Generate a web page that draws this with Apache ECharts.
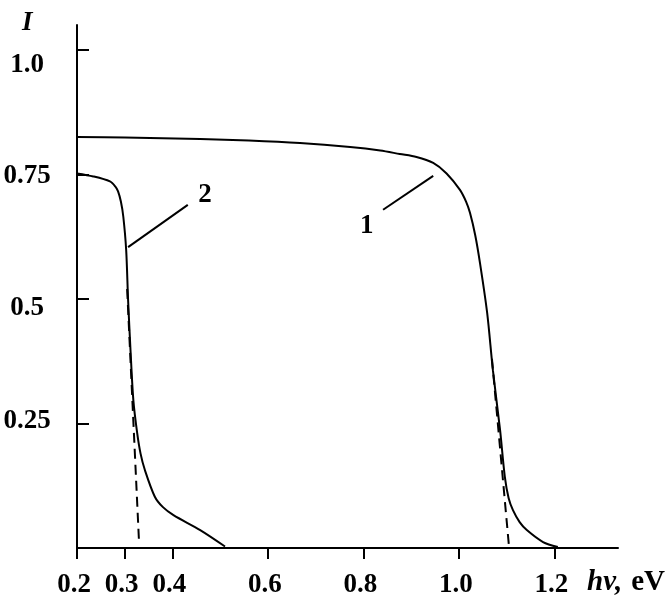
<!DOCTYPE html>
<html>
<head>
<meta charset="utf-8">
<script src="https://cdn.jsdelivr.net/npm/echarts@6/dist/echarts.min.js"></script>
<style>html,body{margin:0;padding:0;background:#fff;}#c{width:671px;height:609px;}</style>
</head>
<body>
<div id="c"></div>
<script>
// Data
const xTicks = [0.2, 0.3, 0.4, 0.6, 0.8, 1.0, 1.2];
const xTickLabels = ['0.2', '0.3', '0.4', '0.6', '0.8', '1.0', '1.2'];
const yTicks = [0.25, 0.5, 0.75, 1.0];
const yTickLabels = ['0.25', '0.5', '0.75', '1.0'];

const curve1 = [
  [0.200, 0.825], [0.300, 0.824], [0.458, 0.821], [0.560, 0.818], [0.667, 0.813],
  [0.772, 0.805], [0.835, 0.798], [0.876, 0.791], [0.911, 0.785], [0.946, 0.773],
  [0.974, 0.752], [1.002, 0.719], [1.015, 0.695], [1.023, 0.673], [1.034, 0.628],
  [1.044, 0.572], [1.059, 0.472], [1.071, 0.357], [1.086, 0.237], [1.096, 0.143],
  [1.104, 0.100], [1.113, 0.076], [1.127, 0.052], [1.142, 0.036], [1.176, 0.012],
  [1.207, 0.002]
];
const curve2 = [
  [0.200, 0.752], [0.234, 0.746], [0.269, 0.736], [0.280, 0.726], [0.286, 0.716],
  [0.292, 0.695], [0.297, 0.665], [0.303, 0.598], [0.307, 0.498], [0.312, 0.398],
  [0.318, 0.297], [0.326, 0.231], [0.333, 0.190], [0.342, 0.157], [0.363, 0.103],
  [0.380, 0.082], [0.402, 0.066], [0.458, 0.036], [0.510, 0.003]
];
const tangent1 = [[1.069, 0.380], [1.105, 0.000]];
const tangent2 = [[0.305, 0.520], [0.330, 0.010]];
const leader1 = [[0.841, 0.679], [0.946, 0.747]];
const leader2 = [[0.432, 0.689], [0.307, 0.604]];
const curveLabels = [
  { name: '1', value: [0.807, 0.647] },
  { name: '2', value: [0.468, 0.709] }
];

const serif = '"Liberation Serif", "DejaVu Serif", serif';
const chart = echarts.init(document.getElementById('c'), null, { renderer: 'canvas' });

const yRich = {
  p0: { padding: [0, 0, 4, 0] },
  p1: { padding: [18, 0, 0, 0] },
  p2: { padding: [4, 0, 0, 0] },
  p3: { padding: [30, 0, 0, 0] }
};

chart.setOption({
  backgroundColor: '#ffffff',
  animation: false,
  grid: { left: 77, right: 53, top: 25, bottom: 61, containLabel: false },
  xAxis: {
    type: 'value',
    min: 0.2,
    max: 1.333,
    splitLine: { show: false },
    axisLine: { show: true, onZero: false, lineStyle: { color: '#000', width: 2 } },
    axisTick: { show: true, inside: false, length: 11, customValues: xTicks, lineStyle: { color: '#000', width: 2 } },
    axisLabel: {
      show: true,
      customValues: xTicks,
      formatter: v => { const i = xTicks.findIndex(t => Math.abs(t - v) < 1e-9); return i >= 0 ? xTickLabels[i] : ''; },
      margin: 24,
      padding: [0, 6, 0, 0],
      color: '#000',
      fontFamily: serif,
      fontWeight: 'bold',
      fontSize: 27
    }
  },
  yAxis: {
    type: 'value',
    min: 0,
    max: 1.05,
    splitLine: { show: false },
    axisLine: { show: true, onZero: false, lineStyle: { color: '#000', width: 2 } },
    axisTick: { show: true, inside: true, length: 12, customValues: yTicks, lineStyle: { color: '#000', width: 2 } },
    axisLabel: {
      show: true,
      customValues: yTicks,
      formatter: v => {
        const i = yTicks.findIndex(t => Math.abs(t - v) < 1e-9);
        if (i < 0) return '';
        return '{p' + i + '|' + yTickLabels[i] + '}';
      },
      rich: yRich,
      align: 'center',
      margin: 50,
      color: '#000',
      fontFamily: serif,
      fontWeight: 'bold',
      fontSize: 27
    }
  },
  series: [
    { type: 'line', data: curve1, smooth: 0.3, symbol: 'none', lineStyle: { color: '#000', width: 2 } },
    { type: 'line', data: curve2, smooth: 0.3, symbol: 'none', lineStyle: { color: '#000', width: 2 } },
    { type: 'line', data: tangent1, symbol: 'none', lineStyle: { color: '#000', width: 2, type: [10, 6] } },
    { type: 'line', data: tangent2, symbol: 'none', lineStyle: { color: '#000', width: 2, type: [10, 6] } },
    { type: 'line', data: leader1, symbol: 'none', lineStyle: { color: '#000', width: 2 } },
    { type: 'line', data: leader2, symbol: 'none', lineStyle: { color: '#000', width: 2 } },
    {
      type: 'scatter', data: curveLabels, symbolSize: 0, itemStyle: { color: '#000', opacity: 1 },
      label: { show: true, position: 'inside', formatter: p => p.name, color: '#000', opacity: 1,
        textBorderWidth: 0, fontFamily: serif, fontWeight: 'bold', fontSize: 27 }
    }
  ],
  graphic: [
    { type: 'text', left: 22, top: 10,
      style: { text: 'I', fill: '#000', font: 'italic bold 27px ' + serif } },
    { type: 'text', left: 587, top: 568,
      style: { text: '{i|hv,}{n|eV}', fill: '#000',
        rich: { i: { font: 'italic bold 29px ' + serif, fill: '#000', padding: [0, 9, 0, 0] }, n: { font: 'bold 29px ' + serif, fill: '#000' } } } }
  ]
});
</script>
</body>
</html>
